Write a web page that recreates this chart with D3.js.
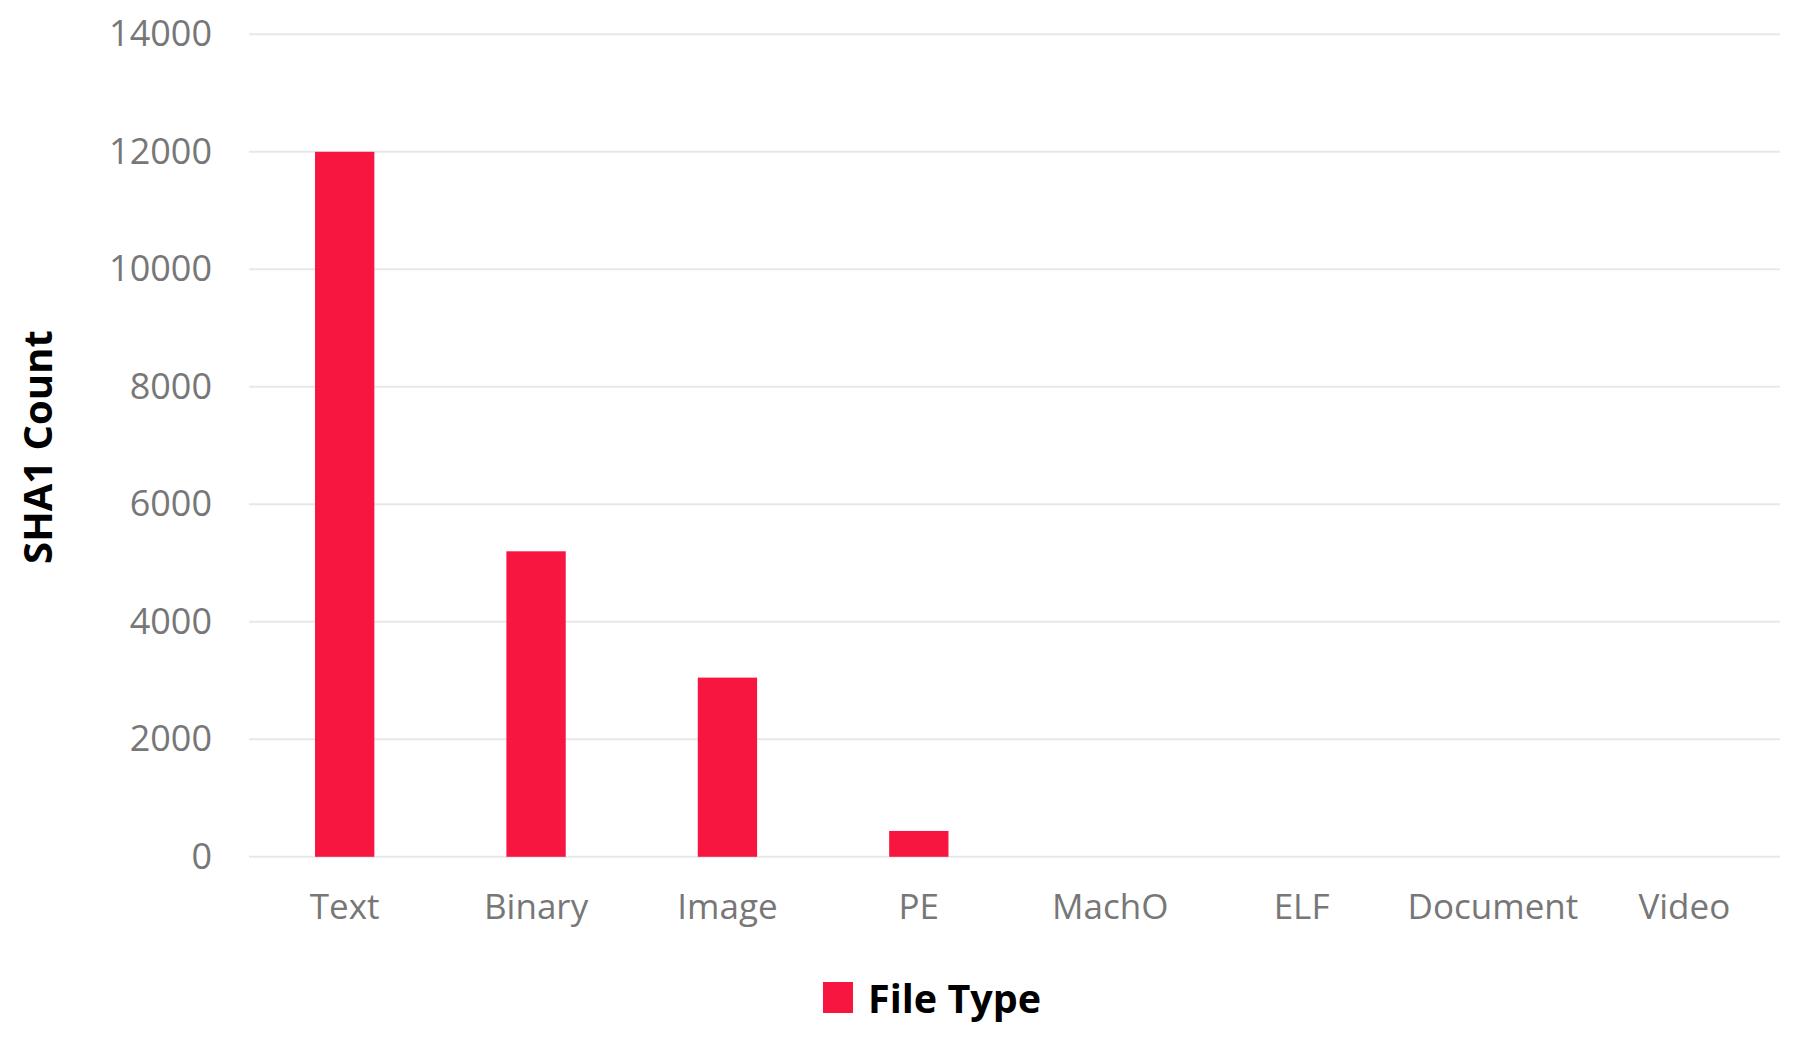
<!DOCTYPE html>
<html>
<head>
<meta charset="utf-8">
<script src="https://cdn.jsdelivr.net/npm/d3@7"></script>
<style>
  body { margin: 0; background: #ffffff; }
  text { font-family: "Open Sans", sans-serif; }
</style>
</head>
<body>
<div id="chart"></div>
<script>
// Chart data
var fileTypes = ["Text", "Binary", "Image", "PE", "MachO", "ELF", "Document", "Video"];
var sha1Counts = [12000, 5200, 3050, 440, 0, 0, 0, 0];
var yTicks = [0, 2000, 4000, 6000, 8000, 10000, 12000, 14000];
var seriesName = "File Type";
var yTitle = "SHA1 Count";

// Define SVG area size
var svgWidth = 1800;
var svgHeight = 1042;

// Define margins
var margin = {
  top: 34.3,
  right: 20,
  bottom: 185.2,
  left: 249
};

var width = svgWidth - margin.left - margin.right;
var height = svgHeight - margin.top - margin.bottom;

var barColor = "#f7163f";

var svg = d3.select("#chart")
  .append("svg")
  .attr("width", svgWidth)
  .attr("height", svgHeight);

var chartGroup = svg.append("g")
  .attr("transform", `translate(${margin.left}, ${margin.top})`);

// scales
var xBandScale = d3.scaleBand()
  .domain(fileTypes)
  .range([0, width])
  .paddingInner(0.69)
  .paddingOuter(0.345);

var yLinearScale = d3.scaleLinear()
  .domain([0, 14000])
  .range([height, 0]);

// gridlines
chartGroup.append("g")
  .selectAll("line")
  .data(yTicks)
  .enter()
  .append("line")
  .attr("x1", 0)
  .attr("x2", width)
  .attr("y1", d => yLinearScale(d))
  .attr("y2", d => yLinearScale(d))
  .attr("stroke", "#e8e8e8")
  .attr("stroke-width", 2);

// left axis (labels only)
var leftAxis = d3.axisLeft(yLinearScale)
  .tickValues(yTicks)
  .tickSize(0)
  .tickPadding(37)
  .tickFormat(d3.format("d"));

var yAxis = chartGroup.append("g")
  .call(leftAxis);

yAxis.select(".domain").remove();
yAxis.selectAll("text")
  .attr("font-size", "36px")
  .attr("font-family", "'Open Sans', sans-serif")
  .attr("fill", "#777777");

// bottom axis (labels only)
var bottomAxis = d3.axisBottom(xBandScale)
  .tickSize(0)
  .tickPadding(37);

var xAxis = chartGroup.append("g")
  .attr("transform", `translate(0, ${height})`)
  .call(bottomAxis);

xAxis.select(".domain").remove();
xAxis.selectAll("text")
  .attr("font-size", "35px")
  .attr("font-family", "'Open Sans', sans-serif")
  .attr("fill", "#777777");

// bars
chartGroup.selectAll("rect.bar")
  .data(fileTypes)
  .enter()
  .append("rect")
  .attr("class", "bar")
  .attr("x", d => xBandScale(d))
  .attr("width", xBandScale.bandwidth())
  .attr("y", (d, i) => yLinearScale(sha1Counts[i]))
  .attr("height", (d, i) => height - yLinearScale(sha1Counts[i]))
  .attr("fill", barColor);

// y axis title
svg.append("text")
  .attr("transform", `translate(52, ${margin.top + height / 2 + 1.5}) rotate(-90)`)
  .attr("text-anchor", "middle")
  .attr("font-size", "40px")
  .attr("font-weight", "bold")
  .attr("fill", "#000000")
  .text(yTitle);

// legend
var legend = svg.append("g")
  .attr("transform", "translate(823, 982)");

legend.append("rect")
  .attr("x", 0)
  .attr("y", 0)
  .attr("width", 30)
  .attr("height", 31)
  .attr("fill", barColor);

legend.append("text")
  .attr("x", 45)
  .attr("y", 30.5)
  .attr("font-size", "39.5px")
  .attr("font-weight", "bold")
  .attr("fill", "#000000")
  .text(seriesName);
</script>
</body>
</html>
